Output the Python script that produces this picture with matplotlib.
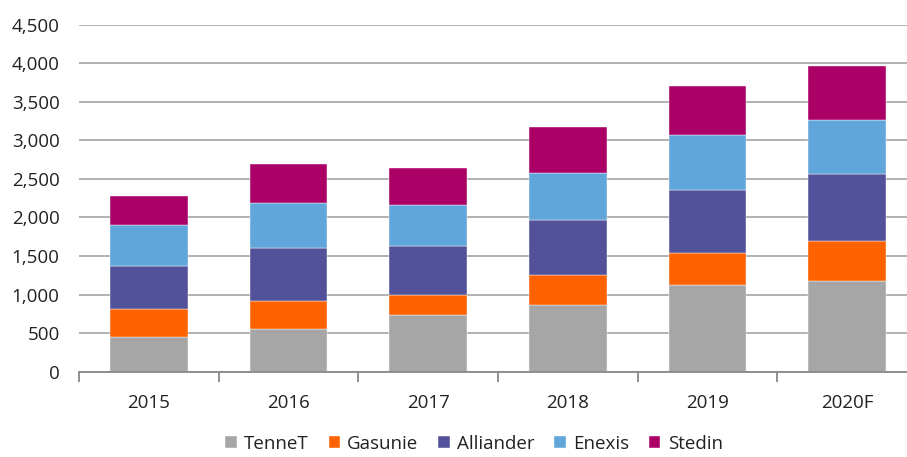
import matplotlib
matplotlib.use("Agg")
import matplotlib.pyplot as plt
import numpy as np

categories = ["2015", "2016", "2017", "2018", "2019", "2020F"]
tennet = [450, 554, 735, 865, 1124, 1176]
gasunie = [363, 363, 260, 389, 415, 519]
alliander = [562, 691, 639, 717, 821, 873]
enexis = [523, 580, 524, 602, 706, 700]
stedin = [384, 509, 488, 596, 643, 700]

series = [("TenneT", tennet, "#A6A6A6"),
          ("Gasunie", gasunie, "#FF6200"),
          ("Alliander", alliander, "#525199"),
          ("Enexis", enexis, "#60A6DA"),
          ("Stedin", stedin, "#AB0066")]

plt.rcParams['font.family'] = ['Open Sans', 'DejaVu Sans']

fig = plt.figure(figsize=(9.07, 4.57), dpi=100)
W, H = 907, 457
ax = fig.add_axes([79 / W, 1 - 371.7 / H, (917 - 79) / W, (371.7 - 24.7) / H])

x = np.arange(len(categories))
bottom = np.zeros(len(categories))
for name, vals, col in series:
    ax.bar(x, vals, width=0.556, bottom=bottom, color=col, label=name,
           edgecolor="white", linewidth=0.3, zorder=3)
    bottom += np.array(vals)

ax.set_xlim(-0.5, len(categories) - 0.5)
ax.set_ylim(0, 4500)
ax.set_yticks(np.arange(0, 4501, 500))
ax.set_yticklabels([f"{v:,}" for v in range(0, 4501, 500)])
ax.yaxis.grid(True, color="#ABABAB", linewidth=1.3, zorder=0)
ax.set_axisbelow(True)
for s in ["top", "right", "left"]:
    ax.spines[s].set_visible(False)
ax.spines["bottom"].set_color("#888888")
ax.spines["bottom"].set_linewidth(1.3)
ax.spines["bottom"].set_zorder(4)

fs = 13.5
ax.set_xticks(x)
ax.set_xticklabels(categories)
ax.tick_params(axis="x", length=0, pad=16, labelsize=fs, colors="#222222")
ax.set_xticks(np.arange(-0.5, len(categories), 1), minor=True)
ax.tick_params(axis="x", which="minor", length=7, width=1.3, color="#888888")
ax.tick_params(axis="y", length=0, pad=14, labelsize=fs, colors="#222222")

leg = fig.legend(loc="center", bbox_to_anchor=(474 / W, 1 - 444 / H), ncol=5,
                 frameon=False, fontsize=fs, handlelength=0.6, handleheight=0.6,
                 handletextpad=0.4, columnspacing=1.05, borderpad=0.2)
for t in leg.get_texts():
    t.set_color("#222222")

fig.savefig("out.png", dpi=100)
